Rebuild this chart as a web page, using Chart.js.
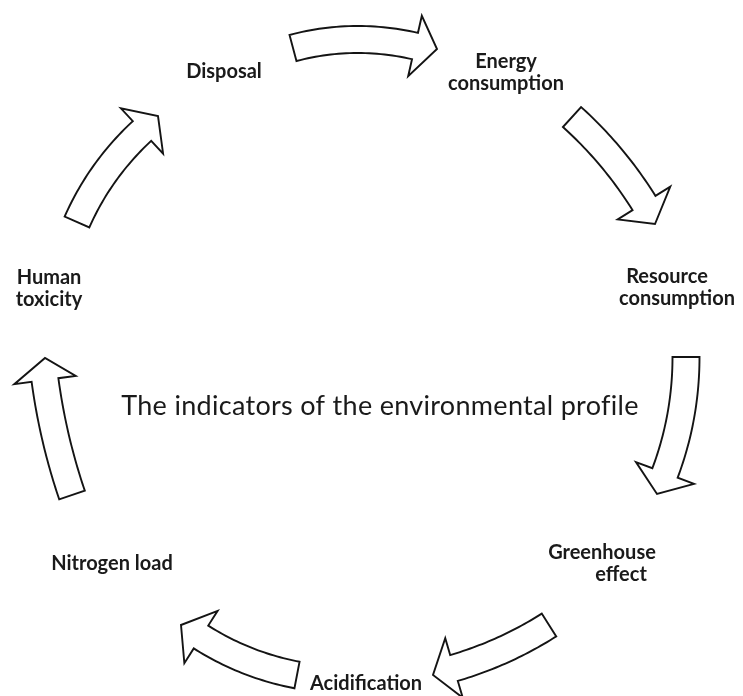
<!DOCTYPE html>
<html>
<head>
<meta charset="utf-8">
<script src="https://cdn.jsdelivr.net/npm/chart.js@4"></script>
<style>
  html, body { margin: 0; padding: 0; background: #fff; }
  #wrap { width: 743px; height: 696px; }
</style>
</head>
<body>
<div id="wrap"><canvas id="cycle"></canvas></div>
<script>
// label lines and where their baselines sit (picture coordinates)
const labelLines = ['Disposal', 'Energy', 'consumption', 'Resource', 'consumption',
  'Greenhouse', 'effect', 'Acidification', 'Nitrogen load', 'Human', 'toxicity'];
const labelX = [224, 506, 506, 667, 677, 602, 621, 366, 112, 49, 49];
const labelY = [78, 68, 90, 283, 305, 559, 581, 690, 570, 284, 306];

const centerTitle = 'The indicators of the environmental profile';
const centerTitleX = [380];
const centerTitleY = [415];

// each arrow: tail, bend (curve control), head base, tip
const arrowTail = [[293, 48], [572, 117], [686, 357], [549, 625], [297, 675], [72, 495], [77, 222]];
const arrowBend = [[353, 32], [614, 155], [686, 417], [505, 653], [245, 665], [53, 439], [100, 170]];
const arrowBase = [[415, 46], [644, 203], [665, 473], [454, 668], [201, 637], [45, 380], [142, 131]];
const arrowTip = [[437, 49], [655, 224], [657, 494], [433, 675], [181, 625], [45, 358], [158, 116]];

const SHAFT = 27;
const HEAD_HALF = 31;

function toPoints(xs, ys) {
  return xs.map((x, i) => ({ x, y: ys[i] }));
}

function drawArrow(ctx, pts) {
  const [t, c, b, p] = pts;
  const left = [];
  const right = [];
  const steps = 30;
  let nx = 0, ny = 0;
  for (let i = 0; i <= steps; i++) {
    const s = i / steps;
    const x = (1 - s) * (1 - s) * t.x + 2 * (1 - s) * s * c.x + s * s * b.x;
    const y = (1 - s) * (1 - s) * t.y + 2 * (1 - s) * s * c.y + s * s * b.y;
    const dx = 2 * (1 - s) * (c.x - t.x) + 2 * s * (b.x - c.x);
    const dy = 2 * (1 - s) * (c.y - t.y) + 2 * s * (b.y - c.y);
    const len = Math.hypot(dx, dy) || 1;
    nx = -dy / len;
    ny = dx / len;
    left.push([x + nx * SHAFT / 2, y + ny * SHAFT / 2]);
    right.push([x - nx * SHAFT / 2, y - ny * SHAFT / 2]);
  }
  ctx.beginPath();
  ctx.moveTo(left[0][0], left[0][1]);
  left.forEach(([x, y]) => ctx.lineTo(x, y));
  ctx.lineTo(b.x + nx * HEAD_HALF, b.y + ny * HEAD_HALF);
  ctx.lineTo(p.x, p.y);
  ctx.lineTo(b.x - nx * HEAD_HALF, b.y - ny * HEAD_HALF);
  for (let i = right.length - 1; i >= 0; i--) ctx.lineTo(right[i][0], right[i][1]);
  ctx.closePath();
  ctx.fillStyle = '#fff';
  ctx.fill();
  ctx.lineWidth = 1.9;
  ctx.lineJoin = 'miter';
  ctx.strokeStyle = '#141414';
  ctx.stroke();
}

const cyclePlugin = {
  id: 'cycleDiagram',
  afterDatasetsDraw(chart) {
    const ctx = chart.ctx;
    ctx.save();
    chart.data.datasets.forEach((ds, i) => {
      const meta = chart.getDatasetMeta(i);
      if (ds.role === 'arrow') {
        drawArrow(ctx, meta.data.map(el => ({ x: el.x, y: el.y })));
      }
    });
    chart.data.datasets.forEach((ds, i) => {
      const meta = chart.getDatasetMeta(i);
      if (ds.role === 'label' || ds.role === 'title') {
        ctx.font = ds.role === 'title' ? '27px Lato' : 'bold 20px Lato';
        ctx.letterSpacing = ds.role === 'title' ? '0.3px' : '0px';
        ctx.fillStyle = '#1a1a1a';
        ctx.textAlign = 'center';
        ctx.textBaseline = 'alphabetic';
        meta.data.forEach((el, j) => ctx.fillText(ds.texts[j], el.x, el.y));
      }
    });
    ctx.restore();
  }
};

const datasets = [
  { role: 'label', texts: labelLines, data: toPoints(labelX, labelY), pointRadius: 0 },
  { role: 'title', texts: [centerTitle], data: toPoints(centerTitleX, centerTitleY), pointRadius: 0 }
];
arrowTail.forEach((tail, i) => {
  const pts = [tail, arrowBend[i], arrowBase[i], arrowTip[i]];
  datasets.push({
    role: 'arrow',
    data: pts.map(([x, y]) => ({ x, y })),
    pointRadius: 0,
    showLine: false
  });
});

new Chart(document.getElementById('cycle'), {
  type: 'scatter',
  data: { datasets },
  options: {
    responsive: true,
    maintainAspectRatio: false,
    animation: false,
    layout: { padding: 0 },
    scales: {
      x: { type: 'linear', min: 0, max: 743, display: false },
      y: { type: 'linear', min: 0, max: 696, reverse: true, display: false }
    },
    plugins: {
      legend: { display: false },
      tooltip: { enabled: false }
    }
  },
  plugins: [cyclePlugin]
});
</script>
</body>
</html>
